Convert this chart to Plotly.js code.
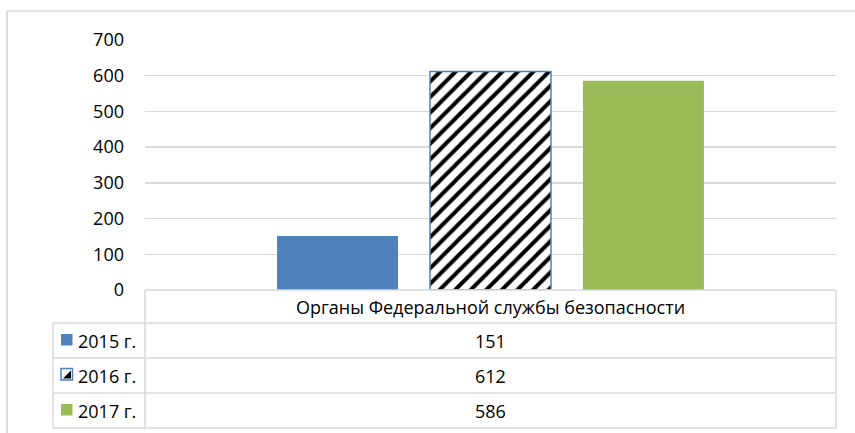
<!DOCTYPE html>
<html>
<head>
<meta charset="utf-8">
<script src="https://cdn.plot.ly/plotly-3.0.1.min.js"></script>
<style>
  html, body { margin: 0; padding: 0; background: #ffffff; }
  #chart { width: 855px; height: 433px; }
</style>
</head>
<body>
<div id="chart"></div>
<script>
// ---- Data ----
const categories = ['Органы Федеральной службы безопасности'];
const seriesNames = ['2015 г.', '2016 г.', '2017 г.'];
const values2015 = [151];
const values2016 = [612];
const values2017 = [586];
const yTicks = [0, 100, 200, 300, 400, 500, 600, 700];

// ---- Styling ----
const FONT = 'Open Sans, Liberation Sans, Arial, sans-serif';
const FS = 18;
const BLUE = '#4F81BD';
const GREEN = '#9BBB59';
const GRID = '#D9D9D9';

const W = 855, H = 433;
const L = 145, R = 836, T = 40, B = 290;
// pixel -> paper helpers (for table/frame layout only)
const px = x => (x - L) / (R - L);
const py = y => (B - y) / (B - T);

const traces = [
  { type: 'bar', name: seriesNames[0], x: categories, y: values2015,
    marker: { color: BLUE, line: { width: 0 } }, hoverinfo: 'none' },
  { type: 'bar', name: seriesNames[1], x: categories, y: values2016,
    marker: { color: '#ffffff', line: { color: BLUE, width: 1.5 },
      pattern: { shape: '/', fgcolor: '#000000', bgcolor: '#ffffff', size: 11, solidity: 0.36, fillmode: 'replace' } },
    hoverinfo: 'none' },
  { type: 'bar', name: seriesNames[2], x: categories, y: values2017,
    marker: { color: GREEN, line: { width: 0 } }, hoverinfo: 'none' }
];

// table geometry (pixels)
const rowTop = [323, 358, 393];
const rowBot = [358, 393, 428];
const tblLeft = 53, tblRight = 836;

const shapes = [];
const line = (x0, y0, x1, y1, w) => shapes.push({
  type: 'line', xref: 'paper', yref: 'paper',
  x0: px(x0), y0: py(y0), x1: px(x1), y1: py(y1),
  line: { color: GRID, width: w || 1.5 }, layer: 'above'
});
// outer chart frame (left & top)
line(7, 11, 7, 440, 2);
line(7, 11, 860, 11, 1.5);
// table lines
line(145, 290, tblRight, 290);
[323, 358, 393, 428].forEach(y => line(tblLeft, y, tblRight, y));
line(tblLeft, 323, tblLeft, 428);
line(145, 290, 145, 428);
line(tblRight, 290, tblRight, 428);

// legend keys
const keyX0 = 61, keyX1 = 72.5;
const keyYs = [334, 368.5, 404];
shapes.push({ type: 'rect', xref: 'paper', yref: 'paper',
  x0: px(keyX0), x1: px(keyX1), y0: py(keyYs[0]), y1: py(keyYs[0] + 11.5),
  fillcolor: BLUE, line: { width: 0 } });
shapes.push({ type: 'rect', xref: 'paper', yref: 'paper',
  x0: px(keyX0), x1: px(keyX1), y0: py(keyYs[1]), y1: py(keyYs[1] + 11.5),
  fillcolor: '#ffffff', line: { color: BLUE, width: 1.5 } });
shapes.push({ type: 'path', xref: 'paper', yref: 'paper',
  path: 'M ' + px(keyX1 - 1.5) + ' ' + py(keyYs[1] + 2) +
        ' L ' + px(keyX1 - 1.5) + ' ' + py(keyYs[1] + 10) +
        ' L ' + px(keyX0 + 2) + ' ' + py(keyYs[1] + 10) + ' Z',
  fillcolor: '#000000', line: { width: 0 } });
shapes.push({ type: 'rect', xref: 'paper', yref: 'paper',
  x0: px(keyX0), x1: px(keyX1), y0: py(keyYs[2]), y1: py(keyYs[2] + 11.5),
  fillcolor: GREEN, line: { width: 0 } });

const annotations = [];
annotations.push({ xref: 'paper', yref: 'paper', x: px((145 + tblRight) / 2), y: py(306.5),
  text: categories[0], showarrow: false, xanchor: 'center', yanchor: 'middle',
  font: { family: FONT, size: FS, color: '#000000' } });
const allValues = [values2015, values2016, values2017];
seriesNames.forEach((n, i) => {
  const yc = (rowTop[i] + rowBot[i]) / 2;
  annotations.push({ xref: 'paper', yref: 'paper', x: px(76), y: py(yc),
    text: n, showarrow: false, xanchor: 'left', yanchor: 'middle',
    font: { family: FONT, size: FS, color: '#000000' } });
  annotations.push({ xref: 'paper', yref: 'paper', x: px((145 + tblRight) / 2), y: py(yc),
    text: String(allValues[i][0]), showarrow: false, xanchor: 'center', yanchor: 'middle',
    font: { family: FONT, size: FS, color: '#000000' } });
});

const layout = {
  width: W, height: H,
  margin: { l: L, r: W - R, t: T, b: H - B, pad: 0 },
  paper_bgcolor: '#ffffff', plot_bgcolor: '#ffffff',
  showlegend: false,
  barmode: 'group', bargap: 0.336, bargroupgap: 0.209,
  font: { family: FONT, size: FS, color: '#000000' },
  xaxis: { showticklabels: false, showgrid: false, zeroline: false, showline: false, ticks: '', fixedrange: true },
  yaxis: { range: [0, 700], tickvals: yTicks, ticktext: yTicks.map(String),
    showgrid: true, gridcolor: GRID, gridwidth: 1.5, zeroline: false, showline: false,
    ticks: '', ticklabelstandoff: 20, tickfont: { family: FONT, size: FS, color: '#000000' }, fixedrange: true },
  shapes: shapes,
  annotations: annotations
};

Plotly.newPlot('chart', traces, layout, { displayModeBar: false, staticPlot: true });
</script>
</body>
</html>
